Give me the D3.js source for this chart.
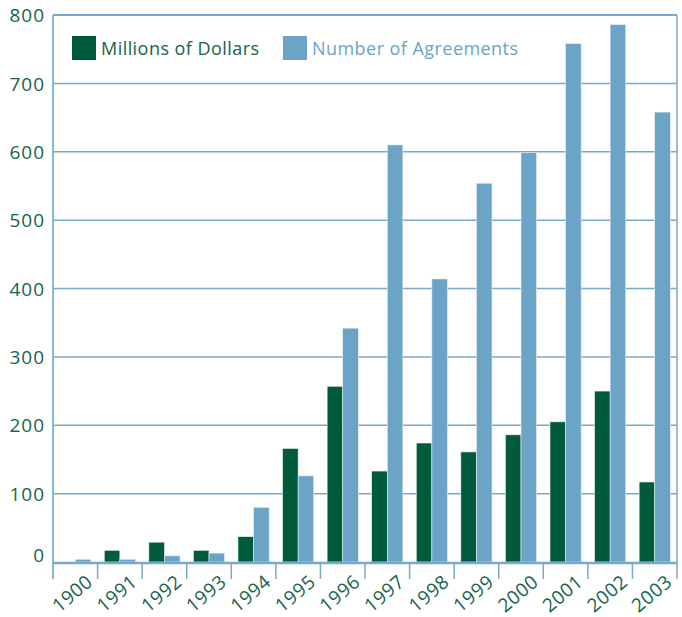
<!DOCTYPE html>
<html>
<head>
<meta charset="utf-8">
<script src="https://cdn.jsdelivr.net/npm/d3@7"></script>
<style>
  body { margin: 0; background: #fff; }
  text { font-family: "Open Sans", Lato, sans-serif; }
</style>
</head>
<body>
<svg id="chart"></svg>
<script>
// Chart data
const years = ['1900', '1991', '1992', '1993', '1994', '1995', '1996', '1997', '1998', '1999', '2000', '2001', '2002', '2003'];
const dollars = [0, 17, 29, 17, 37, 166, 257, 133, 174, 161, 186, 205, 250, 117];
const agreements = [4, 4, 9, 13, 80, 126, 342, 610, 414, 554, 599, 758, 786, 658];
const seriesNames = ['Millions of Dollars', 'Number of Agreements'];
const yTicks = [0, 100, 200, 300, 400, 500, 600, 700, 800];

const green = '#005a3c';
const blue = '#6ba4c6';
const lineBlue = '#78a9c9';
const textGreen = '#16644a';

const width = 682, height = 617;
const margin = {top: 15, right: 5, bottom: 55, left: 53};
const innerW = width - margin.left - margin.right;
const innerH = height - margin.top - margin.bottom;

const svg = d3.select('#chart')
    .attr('width', width)
    .attr('height', height);

const chart = svg.append('g')
    .attr('transform', `translate(${margin.left},${margin.top})`);

// Scales
const x = d3.scaleBand()
    .domain(years)
    .range([0, innerW]);

const xSub = d3.scaleBand()
    .domain(seriesNames)
    .range([0, x.bandwidth()])
    .paddingOuter(0.43)
    .paddingInner(0);

const y = d3.scaleLinear()
    .domain([0, 800])
    .range([innerH, 0]);

const color = d3.scaleOrdinal()
    .domain(seriesNames)
    .range([green, blue]);

// Gridlines
chart.append('g')
    .selectAll('line')
    .data(yTicks.filter(d => d > 0))
    .join('line')
    .attr('x1', 0)
    .attr('x2', innerW)
    .attr('y1', d => y(d))
    .attr('y2', d => y(d))
    .attr('stroke', lineBlue)
    .attr('stroke-width', 1.5);

// Right frame line
chart.append('line')
    .attr('x1', innerW).attr('x2', innerW)
    .attr('y1', 0).attr('y2', innerH)
    .attr('stroke', lineBlue)
    .attr('stroke-width', 1.5);

// Bars
const rows = years.map((yr, i) => ({year: yr, values: [
    {key: seriesNames[0], value: dollars[i]},
    {key: seriesNames[1], value: agreements[i]}
]}));

const groups = chart.selectAll('.year')
    .data(rows)
    .join('g')
    .attr('class', 'year')
    .attr('transform', d => `translate(${x(d.year)},0)`);

groups.selectAll('rect')
    .data(d => d.values.filter(v => v.value > 0))
    .join('rect')
    .attr('x', d => xSub(d.key))
    .attr('width', xSub.bandwidth())
    .attr('y', d => y(d.value))
    .attr('height', d => innerH - y(d.value))
    .attr('fill', d => color(d.key))
    .attr('stroke', '#e8f0f4')
    .attr('stroke-width', 0.6);

// Y axis labels
const yAxis = d3.axisLeft(y)
    .tickValues(yTicks)
    .tickSize(0)
    .tickPadding(8)
    .tickFormat(d3.format('d'));

chart.append('g')
    .call(yAxis)
    .call(g => g.select('.domain').remove())
    .call(g => g.selectAll('text')
        .attr('fill', textGreen)
        .style('font-size', '19px')
        .style('letter-spacing', '1px')
        .attr('dy', d => d === 0 ? '-0.05em' : '0.35em'));

// Left axis line
chart.append('line')
    .attr('x1', 0).attr('x2', 0)
    .attr('y1', 0).attr('y2', innerH + 17)
    .attr('stroke', '#8db6d2')
    .attr('stroke-width', 2);

// X axis
const xAxis = d3.axisBottom(x)
    .tickSize(0)
    .tickPadding(0);

const xAxisG = chart.append('g')
    .attr('transform', `translate(0,${innerH})`)
    .call(xAxis)
    .call(g => g.select('.domain').remove());

xAxisG.selectAll('text')
    .attr('fill', textGreen)
    .style('font-size', '19px')
    .style('letter-spacing', '0.5px')
    .style('text-anchor', 'end')
    .attr('dy', 0)
    .attr('transform', `translate(${x.bandwidth() * 0.42},22) rotate(-40)`);

// Band tick marks below axis
xAxisG.append('g')
    .selectAll('line')
    .data(years)
    .join('line')
    .attr('x1', d => x(d) + x.bandwidth())
    .attr('x2', d => x(d) + x.bandwidth())
    .attr('y1', 0)
    .attr('y2', 17)
    .attr('stroke', lineBlue)
    .attr('stroke-width', 1.5);

// Top frame and baseline
chart.append('line')
    .attr('x1', 0).attr('x2', innerW)
    .attr('y1', 0).attr('y2', 0)
    .attr('stroke', lineBlue)
    .attr('stroke-width', 2);

chart.append('line')
    .attr('x1', 0).attr('x2', innerW)
    .attr('y1', innerH + 1).attr('y2', innerH + 1)
    .attr('stroke', lineBlue)
    .attr('stroke-width', 2.5);

// Legend
const legend = svg.append('g')
    .attr('transform', 'translate(72,36)');

const legendItems = legend.selectAll('g')
    .data(seriesNames)
    .join('g')
    .attr('transform', (d, i) => `translate(${i * 211},0)`);

legendItems.append('rect')
    .attr('width', 24)
    .attr('height', 24)
    .attr('fill', d => color(d));

legendItems.append('text')
    .attr('x', 29)
    .attr('y', 19)
    .attr('fill', (d, i) => i === 0 ? textGreen : blue)
    .style('font-size', '18px')
    .style('letter-spacing', '0.45px')
    .text(d => d);
</script>
</body>
</html>
